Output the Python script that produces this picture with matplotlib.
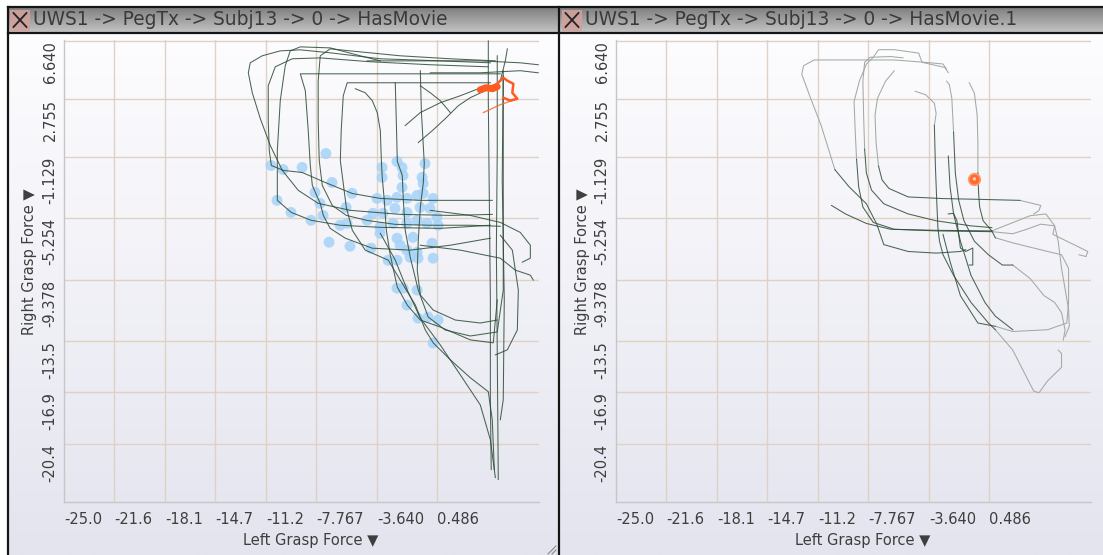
import numpy as np
import matplotlib
matplotlib.use('Agg')
import matplotlib.pyplot as plt
from matplotlib.transforms import blended_transform_factory, offset_copy
from matplotlib.patches import Rectangle
from matplotlib.colors import LinearSegmentedColormap

# ---------------- data ----------------
titles = ["UWS1 -> PegTx -> Subj13 -> 0 -> HasMovie", "UWS1 -> PegTx -> Subj13 -> 0 -> HasMovie.1"]
x_label = "Left Grasp Force \u25BC"
y_label = "Right Grasp Force \u25BC"
x_ticks = [-25.0, -21.6, -18.1, -14.7, -11.2, -7.767, -3.640, 0.486]
x_tick_labels = ["-25.0", "-21.6", "-18.1", "-14.7", "-11.2", "-7.767", "-3.640", "0.486"]
y_ticks = [6.640, 2.755, -1.129, -5.254, -9.378, -13.5, -16.9, -20.4]
y_tick_labels = ["6.640", "2.755", "-1.129", "-5.254", "-9.378", "-13.5", "-16.9", "-20.4"]
x_range = (-25.0, 7.42)
y_range = (-24.3, 6.70)

# left panel trajectories (dark)
left_t1_x = [4.10, 0.68, -3.41, -6.83, -8.87, -10.24, -11.47, -12.29, -12.42, -12.15, -11.60, -10.92, -10.10, -9.01, -7.65, -5.46, -2.05, 1.37, 4.23]
left_t1_y = [5.17, 5.30, 5.44, 5.84, 6.04, 5.97, 5.64, 5.17, 4.50, 3.16, 1.42, -0.38, -2.05, -3.39, -4.26, -4.73, -5.00, -5.07, -5.00]
left_t2_x = [3.96, 0.00, -4.10, -7.51, -9.42, -10.58, -11.06, -11.06, -10.99, -10.85, -10.03, -8.74, -7.17, -5.32, -3.41, -0.68, 2.05, 4.23]
left_t2_y = [4.90, 5.04, 5.24, 5.50, 5.44, 4.90, 3.63, 1.29, -0.72, -1.72, -2.05, -2.19, -2.86, -3.60, -3.93, -4.06, -4.06, -4.06]
left_t3_x = [4.78, 1.37, -2.05, -6.14, -8.87, -8.53, -8.33, -8.19, -8.05, -7.85, -7.51, -7.30, -6.83, -5.80, -3.96, -1.37, 1.37, 4.10]
left_t3_y = [4.43, 4.43, 4.43, 4.43, 4.43, 3.30, 0.62, -1.72, -3.06, -3.52, -4.26, -5.07, -5.94, -6.60, -7.27, -7.40, -7.07, -6.60]
left_t4_x = [4.44, 1.37, -2.05, -5.46, -6.83, -7.51, -7.65, -7.65, -7.58, -7.37, -6.69, -5.73, -4.30, -2.39, 0.00, 2.73, 4.78]
left_t4_y = [5.30, 5.44, 5.64, 5.97, 6.11, 5.64, 3.97, 1.29, -1.39, -3.06, -4.40, -5.07, -5.41, -5.67, -5.73, -5.73, -5.80]
left_t5_x = [-3.41, -4.78, -6.83, -8.87, -9.56, -9.90, -10.24, -10.44, -10.44, -9.49, -8.12, -6.14, -3.41, 0.68, 4.10]
left_t5_y = [5.30, 5.64, 6.17, 6.24, 5.97, 4.97, 2.63, -0.72, -4.06, -4.87, -5.40, -5.73, -5.87, -5.94, -5.73]
left_t6_x = [-5.12, -4.44, -3.96, -3.62, -3.41, -3.34, -3.28, -3.14, -3.00, -2.73, -2.25, -1.57, -0.68, 0.68, 2.73, 4.30, 4.57]
left_t6_y = [3.43, 3.16, 2.63, 1.83, 0.62, -1.39, -2.52, -4.06, -6.07, -7.74, -9.88, -11.09, -12.09, -12.56, -13.42, -13.62, -10.74]
left_t7_x = [-2.39, -2.32, -2.25, -1.91, -1.84, -1.71, -1.37, -0.82, -0.14, 1.02, 2.73, 4.57, 4.98, 4.98, 4.98, 4.98]
left_t7_y = [3.83, 1.29, -1.45, -2.39, -4.06, -6.07, -7.87, -10.08, -11.89, -12.76, -13.16, -12.89, -10.08, -4.06, 1.29, 4.30]
left_t8_x = [-0.68, -0.61, -0.41, -0.48, -0.68, -0.82, -0.89, -0.68, 0.20, 1.71, 3.41, 4.57]
left_t8_y = [4.64, 1.96, -1.58, -2.92, -4.53, -6.74, -8.75, -10.41, -11.42, -12.09, -12.29, -12.09]
left_t9_x = [4.10, -0.68, -5.67, -5.94, -6.08, -6.14, -5.73, -5.32, -4.44, -2.87, -2.05, -1.02, -0.34, 0.20, 1.37, 2.73, 3.96, 4.23, 4.37]
left_t9_y = [3.83, 3.83, 3.83, 2.96, 0.62, -1.39, -4.53, -6.07, -7.40, -8.07, -9.41, -11.08, -12.76, -13.62, -14.76, -15.96, -16.90, -18.78, -22.12]
left_t10_x = [-3.41, -2.39, -1.57, -0.68, 0.68, 2.05, 3.41, 4.10, 4.44]
left_t10_y = [-6.27, -8.07, -10.08, -11.96, -13.76, -15.77, -17.78, -20.12, -22.66]
left_t11_x = [3.96, 3.96, 4.03, 4.10, 4.10, 4.16]
left_t11_y = [6.64, 2.63, -4.06, -10.74, -17.44, -22.12]
left_t12_x = [4.57, 4.57, 4.51, 4.57, 4.64]
left_t12_y = [5.64, -0.72, -7.40, -14.09, -22.79]
left_t13_x = [4.98, 4.91, 5.05, 4.98, 4.78]
left_t13_y = [4.64, -2.72, -10.74, -17.44, -18.78]
left_t14_x = [0.00, 2.73, 4.78, 6.14, 6.83, 6.83, 6.28]
left_t14_y = [-4.73, -5.07, -5.54, -6.21, -7.07, -7.94, -8.21]
left_t15_x = [-0.68, 2.05, 4.78, 5.80, 6.83, 7.03]
left_t15_y = [-7.07, -7.40, -7.94, -8.74, -9.08, -9.41]
left_t16_x = [4.78, 5.60, 6.01, 5.94, 5.26, 4.44]
left_t16_y = [-6.40, -7.40, -10.08, -12.76, -14.09, -14.43]
left_t17_x = [-0.82, 0.14, 1.02, 1.91, 2.73, 3.75]
left_t17_y = [-0.18, 0.62, 1.42, 2.29, 2.83, 3.30]
left_t18_x = [-1.71, -0.68, 0.68, 2.05, 3.28]
left_t18_y = [0.96, 1.83, 2.49, 2.96, 3.43]
left_t19_x = [-0.68, 0.00, 0.68, 1.37]
left_t19_y = [3.63, 3.16, 2.63, 1.83]
left_t20_x = [-4.30, -0.68, 3.41, 6.14, 7.37]
left_t20_y = [5.30, 5.30, 5.30, 5.17, 5.04]
left_t21_x = [0.00, 3.41, 6.14, 7.37]
left_t21_y = [4.50, 4.50, 4.64, 4.50]
left_t22_x = [5.26, 5.12, 4.78]
left_t22_y = [6.11, 5.30, 3.97]

# blue sample dots (left panel)
dots_x = [-10.87, -10.05, -8.75, -7.12, -10.46, -9.51, -8.14, -6.71, -7.87, -7.53, -7.32, -5.75,
          -6.16, -5.68, -6.91, -5.48, -4.04, -5.34, -3.29, -3.29, -2.27, -1.93, -1.86, -0.36,
          -0.56, -0.49, -1.93, -3.63, -2.95, -2.27, -1.59, -0.90, -0.49, 0.19, -3.91, -3.23,
          -2.41, -1.59, -0.70, -0.02, 0.46, -4.32, -3.43, -2.54, -1.59, -0.90, -0.22, 0.53,
          -3.43, -2.27, -1.18, 0.12, -2.06, -1.59, -0.90, -2.88, -2.27, -1.38, -0.84, 0.19,
          -2.27, -1.86, -0.90, -1.59, -0.84, -0.15, 0.53, 0.19]
dots_y = [-1.72, -1.99, -1.85, -0.92, -4.06, -4.87, -5.40, -2.86, -3.53, -4.26, -5.07, -4.53,
          -5.73, -5.60, -6.87, -7.14, -7.27, -3.59, -1.85, -2.52, -1.45, -1.85, -2.39, -1.59,
          -2.52, -2.93, -3.19, -3.93, -4.06, -3.86, -3.93, -3.73, -3.59, -3.93, -4.93, -4.93,
          -4.60, -4.87, -4.53, -4.60, -5.20, -5.40, -5.87, -5.60, -5.60, -5.40, -5.60, -5.73,
          -6.27, -6.60, -6.54, -6.94, -7.07, -7.41, -7.54, -8.08, -8.08, -7.88, -7.94, -7.94,
          -9.95, -9.95, -10.08, -11.09, -11.96, -11.89, -12.09, -13.63]

# orange current segment (left panel)
orange_blob_x = [3.41, 3.82, 4.23, 4.57]
orange_blob_y = [3.36, 3.50, 3.43, 3.56]
orange_zig_x = [3.41, 4.10, 4.57, 4.98, 5.26, 5.67, 5.60, 5.94, 5.46, 4.98]
orange_zig_y = [3.43, 3.56, 3.76, 4.17, 3.97, 3.76, 3.16, 2.76, 2.63, 2.83]
orange_tail_x = [5.94, 4.78, 3.62]
orange_tail_y = [2.76, 2.36, 1.83]

# right panel trajectories: faded (older) parts
right_g1_x = [-2.44, -2.68, -3.87, -6.01, -7.91, -11.48, -12.20, -12.32, -11.72, -11.00, -10.06]
right_g1_y = [4.74, 5.09, 5.20, 5.36, 5.36, 5.36, 4.97, 4.40, 2.80, 0.97, -2.00]
right_g2_x = [-2.32, -2.56, -4.11, -4.34, -6.01, -7.08, -7.44, -7.91, -8.39, -8.75, -8.67, -8.58]
right_g2_y = [4.51, 4.86, 5.20, 5.82, 6.05, 6.05, 5.54, 5.09, 3.94, 2.57, 0.51, -1.31]
right_g3_x = [-5.41, -6.25, -7.67, -8.03, -8.15, -8.10, -8.03]
right_g3_y = [5.50, 5.59, 5.54, 5.20, 3.94, 1.66, -0.63]
right_g4_x = [-6.01, -6.60, -7.15, -7.32, -7.25, -7.08]
right_g4_y = [4.63, 3.94, 2.80, 1.66, -0.17, -1.77]
right_g5_x = [-4.58, -3.87, -3.27, -3.15, -3.27]
right_g5_y = [3.26, 3.03, 2.46, 1.77, 0.97]
right_g6_x = [-2.44, -2.25, -2.08, -1.96]
right_g6_y = [3.94, 3.71, 2.80, 0.51]
right_g7_x = [-0.89, -0.54, -0.35, -0.30, -0.30]
right_g7_y = [3.83, 3.14, 1.66, -0.17, -2.23]
right_g8_x = [0.65, 2.08, 3.03, 3.99, 4.94, 5.18, 5.41, 5.65, 5.89, 5.94, 5.65]
right_g8_y = [-6.16, -6.30, -6.00, -5.66, -5.77, -6.80, -8.63, -10.00, -11.37, -12.51, -13.20]
right_g9_x = [0.89, 2.08, 3.51, 4.46, 5.41, 5.89, 5.89, 5.77, 4.46, 2.08, 0.89]
right_g9_y = [-6.57, -6.91, -7.26, -7.49, -7.71, -8.63, -10.91, -12.29, -12.74, -12.86, -12.51]
right_g10_x = [2.56, 3.99, 3.87, 3.51]
right_g10_y = [-4.06, -4.40, -4.74, -4.97]
right_g11_x = [0.89, 2.08, 3.51, 3.87, 4.46, 4.94, 5.41, 5.41, 5.18]
right_g11_y = [-12.74, -14.11, -16.86, -16.97, -16.17, -15.71, -15.26, -14.34, -14.11]
right_g12_x = [0.65, 3.27, 4.34, 4.94, 4.82, 7.20, 7.08, 6.60]
right_g12_y = [-6.11, -5.09, -4.97, -5.77, -6.34, -7.49, -7.83, -7.71]
right_g13_x = [2.08, 3.27, 4.22, 4.94, 5.41, 5.65, 5.53]
right_g13_y = [-8.40, -9.31, -10.46, -10.91, -11.60, -12.74, -13.43]

# right panel trajectories: recent (dark) parts
right_d1_x = [-10.06, -9.10, -7.91, -7.20, -6.72, -5.06, -3.15, -1.49, -1.13]
right_d1_y = [-2.00, -3.14, -4.29, -5.66, -7.03, -7.49, -7.60, -7.49, -7.37]
right_d2_x = [-8.58, -8.44, -8.15, -7.44, -6.01, -3.15, 0.65]
right_d2_y = [-1.31, -3.14, -4.51, -5.54, -6.00, -6.11, -6.16]
right_d3_x = [-8.03, -7.91, -7.56, -6.72, -5.06, -3.15, -0.77, 0.65]
right_d3_y = [-0.63, -2.23, -3.37, -4.29, -4.97, -5.43, -5.77, -5.89]
right_d4_x = [-7.08, -6.84, -6.37, -5.06, -2.68, -0.30, 2.56]
right_d4_y = [-1.77, -2.69, -3.26, -3.83, -3.94, -3.99, -4.06]
right_d5_x = [-10.29, -9.34, -7.91, -6.25, -3.15, 0.65]
right_d5_y = [-4.40, -4.97, -5.61, -6.00, -6.07, -6.11]
right_d6_x = [-3.27, -3.20, -3.11, -3.03, -2.92, -2.68, -1.96, -0.77, 0.42, 0.89]
right_d6_y = [0.97, -1.77, -4.06, -5.89, -6.80, -7.71, -9.09, -10.91, -12.29, -12.74]
right_d7_x = [-1.96, -1.84, -1.61, -1.25, -0.54, 0.42, 1.37, 2.08]
right_d7_y = [0.51, -2.23, -4.06, -5.43, -6.80, -7.71, -8.40, -8.40]
right_d8_x = [-0.30, -0.25, -0.18, 0.06, 0.65, 0.89]
right_d8_y = [-2.23, -3.60, -4.51, -5.43, -6.11, -6.57]
right_d9_x = [-2.32, -2.20, -1.96, -1.49, -0.77, 0.18, 0.89, 2.08]
right_d9_y = [-1.09, -3.14, -4.97, -6.80, -9.09, -10.91, -11.83, -12.74]
right_d10_x = [-2.32, -1.96, -1.73, -1.49, -1.13, -0.65, -0.65, -0.89]
right_d10_y = [-4.97, -4.93, -5.43, -7.26, -7.49, -7.26, -8.40, -8.40]
right_d11_x = [-2.68, -2.20, -1.49, -0.30, 0.89]
right_d11_y = [-6.34, -8.17, -10.46, -12.29, -12.51]

right_marker_x = [-0.54]
right_marker_y = [-2.62]

left_lines = [(left_t1_x, left_t1_y), (left_t2_x, left_t2_y), (left_t3_x, left_t3_y),
              (left_t4_x, left_t4_y), (left_t5_x, left_t5_y), (left_t6_x, left_t6_y),
              (left_t7_x, left_t7_y), (left_t8_x, left_t8_y), (left_t9_x, left_t9_y),
              (left_t10_x, left_t10_y), (left_t11_x, left_t11_y), (left_t12_x, left_t12_y),
              (left_t13_x, left_t13_y), (left_t14_x, left_t14_y), (left_t15_x, left_t15_y),
              (left_t16_x, left_t16_y), (left_t17_x, left_t17_y), (left_t18_x, left_t18_y),
              (left_t19_x, left_t19_y), (left_t20_x, left_t20_y), (left_t21_x, left_t21_y),
              (left_t22_x, left_t22_y)]
right_faded = [(right_g1_x, right_g1_y), (right_g2_x, right_g2_y), (right_g3_x, right_g3_y),
               (right_g4_x, right_g4_y), (right_g5_x, right_g5_y), (right_g6_x, right_g6_y),
               (right_g7_x, right_g7_y), (right_g8_x, right_g8_y), (right_g9_x, right_g9_y),
               (right_g10_x, right_g10_y), (right_g11_x, right_g11_y), (right_g12_x, right_g12_y),
               (right_g13_x, right_g13_y)]
right_dark = [(right_d1_x, right_d1_y), (right_d2_x, right_d2_y), (right_d3_x, right_d3_y),
              (right_d4_x, right_d4_y), (right_d5_x, right_d5_y), (right_d6_x, right_d6_y),
              (right_d7_x, right_d7_y), (right_d8_x, right_d8_y), (right_d9_x, right_d9_y),
              (right_d10_x, right_d10_y), (right_d11_x, right_d11_y)]

# ---------------- styling ----------------
FONT = ['DejaVu Sans']
plt.rcParams['font.family'] = FONT
TXT = '#3e3e3e'
DARK = '#2b4a34'
FADED = '#a2aaa2'
GRID = '#dfd2c4'

W, H = 1103, 555
fig = plt.figure(figsize=(W / 100, H / 100), dpi=100)
fig.patch.set_facecolor('white')

# window chrome
bg = fig.add_axes([0, 0, 1, 1])
bg.set_xlim(0, W)
bg.set_ylim(H, 0)
bg.axis('off')
grad = np.linspace(0, 1, 256).reshape(-1, 1)
body_cmap = LinearSegmentedColormap.from_list('body', ['#fdfdff', '#e4e4ef'])
bar_cmap = LinearSegmentedColormap.from_list('bar', ['#7e7e7e', '#c3c3c3'])
bg.imshow(grad, extent=(8, W, H, 33), cmap=body_cmap, aspect='auto', zorder=0)
bg.imshow(grad, extent=(8, W, 32, 7), cmap=bar_cmap, aspect='auto', zorder=0)
for yy in (7, 32.5):
    bg.plot([8, W], [yy, yy], color='#151515', lw=1.6, zorder=2)
for xx in (8, 559):
    bg.plot([xx, xx], [7, H], color='#151515', lw=1.6, zorder=2)
for k, x0 in enumerate((10, 562)):
    bg.add_patch(Rectangle((x0, 9.5), 20, 21, fc='#d4a09a', ec='none', alpha=0.85, zorder=1))
    bg.plot([x0 + 3.5, x0 + 16.5], [13, 27], color='#222222', lw=1.3, zorder=3)
    bg.plot([x0 + 3.5, x0 + 16.5], [27, 13], color='#222222', lw=1.3, zorder=3)
    bg.text(x0 + 23, 19.5, titles[k], fontsize=13.4, color='#3a3a3a', va='center', ha='left', zorder=3)
# resize grip
for d in (4, 8):
    bg.plot([556 - d, 556], [554, 554 - d], color='#888888', lw=0.8, zorder=3)

panel_left_px = [64, 616]
for p in range(2):
    ax = fig.add_axes([panel_left_px[p] / W, (H - 502) / H, 475 / W, 462 / H])
    ax.set_facecolor('none')
    ax.set_xlim(*x_range)
    ax.set_ylim(*y_range)
    ax.set_xticks([])
    ax.set_yticks([])
    for s in ('top', 'right'):
        ax.spines[s].set_visible(False)
    for s in ('left', 'bottom'):
        ax.spines[s].set_color('#c6c6c6')
        ax.spines[s].set_linewidth(1.0)
    for v in x_ticks[1:]:
        ax.axvline(v, color=GRID, lw=1.0, zorder=1)
    for v in y_ticks:
        ax.axhline(v, color=GRID, lw=1.0, zorder=1)

    tx = offset_copy(blended_transform_factory(ax.transData, ax.transAxes), fig=fig, x=0, y=-17, units='dots')
    for v, lab in zip(x_ticks, x_tick_labels):
        ax.text(v, 0, lab, transform=tx, ha='left', va='center', fontsize=10.5, color=TXT, clip_on=False)
    ty = offset_copy(blended_transform_factory(ax.transAxes, ax.transData), fig=fig, x=-14, y=0, units='dots')
    for v, lab in zip(y_ticks, y_tick_labels):
        ax.text(0, v, lab, transform=ty, ha='center', va='top', rotation=90, fontsize=10.5, color=TXT, clip_on=False)
    ax.text(0.52, 0, x_label, transform=offset_copy(ax.transAxes, fig=fig, x=0, y=-38, units='dots'),
            ha='center', va='center', fontsize=10.5, color=TXT)
    ax.text(0, 0.52, y_label, transform=offset_copy(ax.transAxes, fig=fig, x=-34, y=0, units='dots'),
            ha='center', va='center', rotation=90, fontsize=10.5, color=TXT)

    if p == 0:
        ax.scatter(dots_x, dots_y, s=62, color='#a6d3f8', alpha=0.85, edgecolors='none', zorder=2)
        for xs, ys in left_lines:
            ax.plot(xs, ys, color=DARK, lw=0.75, alpha=0.85, zorder=3)
        ax.plot(orange_tail_x, orange_tail_y, color='#f06a35', lw=1.0, alpha=0.8, zorder=4)
        ax.plot(orange_zig_x, orange_zig_y, color='#ff5a1f', lw=1.8, zorder=4)
        ax.plot(orange_blob_x, orange_blob_y, color='#ff5a1f', lw=5, solid_capstyle='round', zorder=4)
    else:
        for xs, ys in right_faded:
            ax.plot(xs, ys, color=FADED, lw=0.75, zorder=2)
        for xs, ys in right_dark:
            ax.plot(xs, ys, color=DARK, lw=0.75, alpha=0.85, zorder=3)
        ax.scatter(right_marker_x, right_marker_y, s=70, color='#ff6a2e', edgecolors='#ff9a6a',
                   linewidths=1.2, zorder=5)
        ax.scatter(right_marker_x, right_marker_y, s=6, color='#ffd0b8', edgecolors='none', zorder=6)

fig.savefig('out.png', dpi=100, facecolor=fig.get_facecolor())
